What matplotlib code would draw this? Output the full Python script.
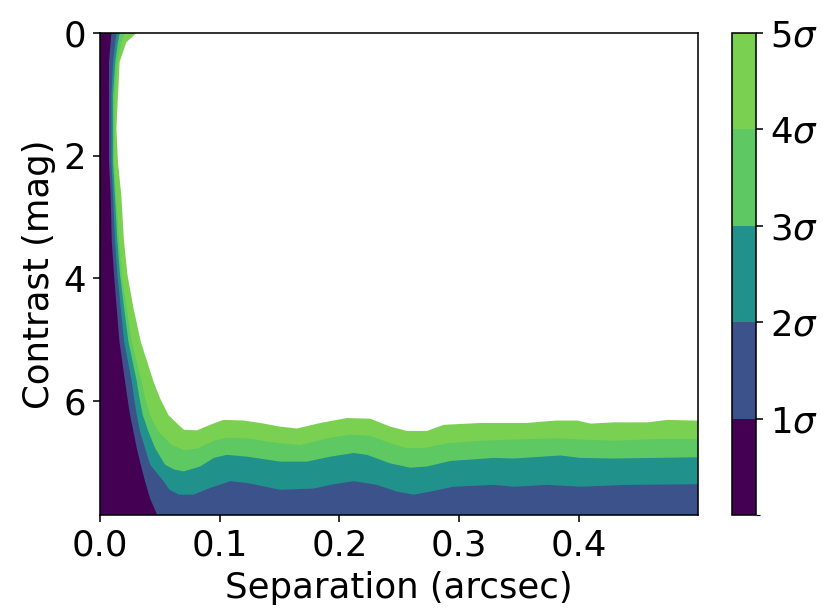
import matplotlib
matplotlib.use("Agg")
import matplotlib.pyplot as plt
from matplotlib.colors import ListedColormap, BoundaryNorm
from matplotlib.cm import ScalarMappable

# boundaries (separation in arcsec, contrast in mag) where significance reaches N sigma
sep_1sig = [0.0095, 0.0089, 0.0075, 0.0075, 0.0089, 0.0098, 0.0117, 0.0139, 0.0162, 0.0209,
            0.0229, 0.0251, 0.0279, 0.0307, 0.0340, 0.0376, 0.0418, 0.0490]
con_1sig = [0.00, 0.15, 0.47, 2.11, 2.65, 3.39, 3.94, 4.48, 5.03, 5.68,
            5.95, 6.23, 6.50, 6.77, 7.04, 7.31, 7.59, 7.92]

sep_2sig = [0.0137, 0.0128, 0.0109, 0.0095, 0.0095, 0.0109, 0.0125, 0.0145, 0.0173, 0.0201,
            0.0265, 0.0284, 0.0307, 0.0334, 0.0376, 0.0418, 0.0530, 0.0580, 0.0660, 0.0780,
            0.0920, 0.1090, 0.1230, 0.1505, 0.1784, 0.1951, 0.2118, 0.2313, 0.2481, 0.2620,
            0.2759, 0.2954, 0.3289, 0.3456, 0.3735, 0.4013, 0.4403, 0.4961]
con_2sig = [0.00, 0.15, 0.47, 1.02, 2.11, 2.65, 3.39, 3.94, 4.48, 5.03,
            5.68, 5.95, 6.23, 6.50, 6.77, 7.04, 7.31, 7.45, 7.53, 7.53,
            7.42, 7.31, 7.34, 7.45, 7.43, 7.36, 7.31, 7.37, 7.48, 7.53,
            7.48, 7.40, 7.37, 7.40, 7.37, 7.40, 7.37, 7.36]

sep_3sig = [0.0165, 0.0150, 0.0128, 0.0109, 0.0109, 0.0145, 0.0167, 0.0201, 0.0237, 0.0307,
            0.0329, 0.0357, 0.0404, 0.0460, 0.0543, 0.0620, 0.0700, 0.0836, 0.0950, 0.1060,
            0.1230, 0.1505, 0.1728, 0.1923, 0.2118, 0.2230, 0.2425, 0.2592, 0.2731, 0.2926,
            0.3289, 0.3456, 0.3846, 0.4013, 0.4292, 0.4961]
con_3sig = [0.00, 0.15, 0.47, 1.02, 2.11, 3.39, 3.94, 4.48, 5.03, 5.68,
            5.95, 6.23, 6.50, 6.77, 7.04, 7.12, 7.15, 7.07, 6.93, 6.88,
            6.91, 6.99, 6.99, 6.91, 6.85, 6.88, 7.02, 7.09, 7.07, 6.98,
            6.93, 6.94, 6.89, 6.93, 6.94, 6.92]

sep_4sig = [0.0206, 0.0178, 0.0145, 0.0123, 0.0117, 0.0160, 0.0181, 0.0223, 0.0265, 0.0348,
            0.0376, 0.0418, 0.0488, 0.0600, 0.0700, 0.0810, 0.0950, 0.1060, 0.1230, 0.1390,
            0.1505, 0.1672, 0.1895, 0.2090, 0.2258, 0.2425, 0.2564, 0.2703, 0.2899, 0.3177,
            0.3456, 0.3818, 0.4013, 0.4292, 0.4654, 0.4961]
con_4sig = [0.00, 0.15, 0.47, 1.02, 2.11, 3.39, 3.94, 4.48, 5.03, 5.68,
            5.95, 6.23, 6.50, 6.72, 6.80, 6.78, 6.65, 6.60, 6.61, 6.66,
            6.69, 6.72, 6.61, 6.55, 6.57, 6.69, 6.77, 6.77, 6.69, 6.65,
            6.63, 6.61, 6.63, 6.65, 6.62, 6.62]

sep_5sig = [0.0304, 0.0220, 0.0164, 0.0150, 0.0137, 0.0150, 0.0178, 0.0200, 0.0229, 0.0279,
            0.0340, 0.0446, 0.0500, 0.0571, 0.0655, 0.0700, 0.0810, 0.0920, 0.1030, 0.1200,
            0.1340, 0.1505, 0.1645, 0.1840, 0.2062, 0.2258, 0.2425, 0.2564, 0.2731, 0.2871,
            0.3177, 0.3567, 0.3679, 0.3818, 0.3986, 0.4097, 0.4292, 0.4570, 0.4738, 0.4961]
con_5sig = [0.00, 0.15, 0.47, 1.02, 1.56, 2.11, 2.65, 3.39, 3.94, 4.48,
            5.03, 5.68, 5.95, 6.23, 6.39, 6.47, 6.48, 6.39, 6.31, 6.32,
            6.36, 6.42, 6.45, 6.36, 6.28, 6.29, 6.42, 6.49, 6.49, 6.39,
            6.36, 6.36, 6.34, 6.32, 6.32, 6.37, 6.35, 6.35, 6.31, 6.32]

levels = [0, 1, 2, 3, 4, 5]
level_colors = ["#440154", "#3b528b", "#21918c", "#5ec962", "#7ad151"]
cbar_labels = [r"$1\sigma$", r"$2\sigma$", r"$3\sigma$", r"$4\sigma$", r"$5\sigma$"]

plt.rcParams["font.size"] = 18

dpi = 142
fig = plt.figure(figsize=(830 / dpi, 613 / dpi), dpi=dpi)
ax = fig.add_axes([0.1205, 0.160, 0.7205, 0.786])
ax.set_facecolor(level_colors[0])

boundaries = [(sep_1sig, con_1sig), (sep_2sig, con_2sig), (sep_3sig, con_3sig),
              (sep_4sig, con_4sig), (sep_5sig, con_5sig)]
fill_colors = level_colors[1:] + ["white"]
for (sep, con), col in zip(boundaries, fill_colors):
    xs = list(sep) + [0.6, 0.6, sep[0]]
    ys = list(con) + [con[-1], -1.0, -1.0]
    ax.fill(xs, ys, color=col, lw=0)

ax.set_xlim(0, 0.4995)
ax.set_ylim(7.86, 0)
ax.set_xticks([0.0, 0.1, 0.2, 0.3, 0.4])
ax.set_yticks([0, 2, 4, 6])
ax.set_xlabel("Separation (arcsec)")
ax.set_ylabel("Contrast (mag)")

cax = fig.add_axes([0.882, 0.160, 0.029, 0.786])
sm = ScalarMappable(norm=BoundaryNorm(levels, len(level_colors)),
                    cmap=ListedColormap(level_colors))
cb = fig.colorbar(sm, cax=cax, ticks=levels[1:])
cb.ax.set_yticklabels(cbar_labels)

fig.savefig("out.png", dpi=dpi)
